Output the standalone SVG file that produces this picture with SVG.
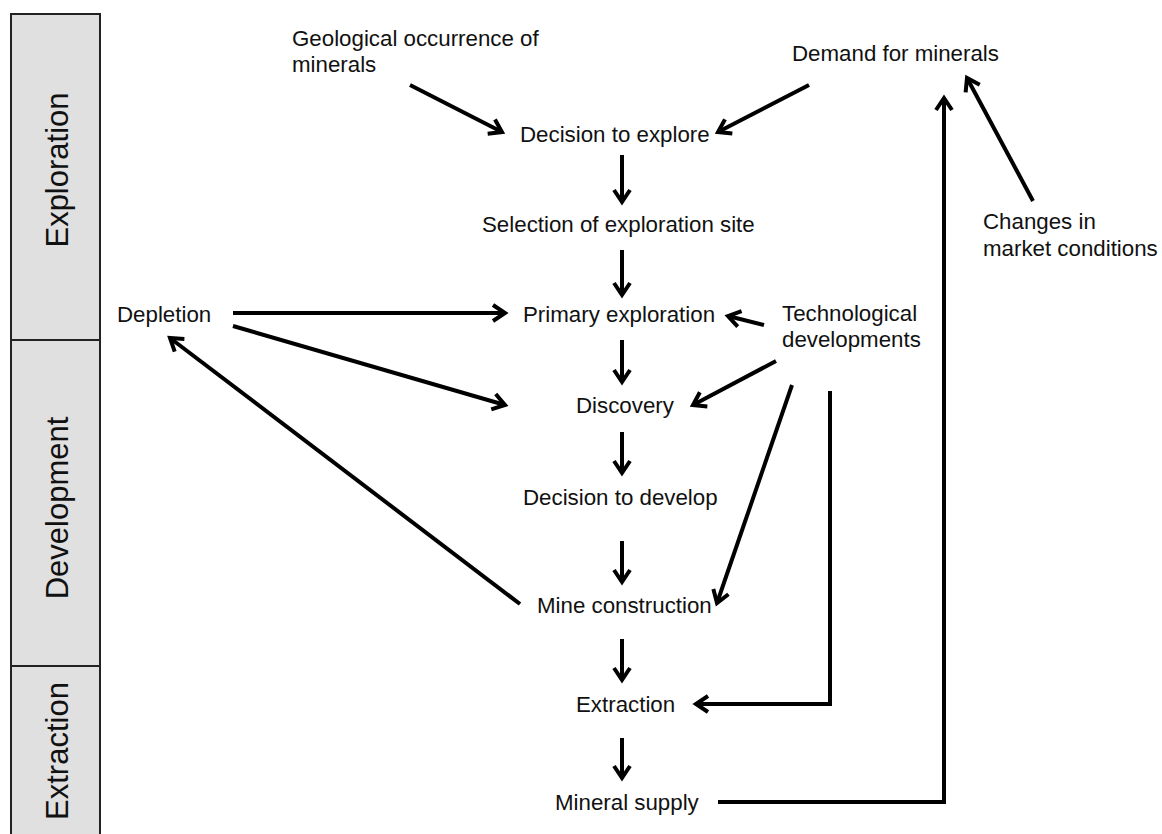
<svg xmlns="http://www.w3.org/2000/svg" width="1162" height="834" viewBox="0 0 1162 834">
  <style>
    .lbl { font-family: "Liberation Sans", Arial, sans-serif; font-size: 22.3px; fill: #111; }
    .phase { font-family: "Liberation Sans", Arial, sans-serif; font-size: 31px; fill: #111; text-anchor: middle; }
    .band { fill: #e0e0e0; stroke: #222; stroke-width: 2; }
    .sep { stroke: #222; stroke-width: 2; }
    .conn { fill: none; stroke: #000; stroke-width: 4; marker-end: url(#head); }
    .plain { fill: none; stroke: #000; stroke-width: 4; stroke-linejoin: miter; }
  </style>
  <defs>
    <marker id="head" viewBox="0 0 24 24" refX="19" refY="12" markerWidth="24" markerHeight="24" markerUnits="userSpaceOnUse" orient="auto">
      <path d="M7,4 L19,12 L7,20" fill="none" stroke="#000" stroke-width="4" stroke-linejoin="miter"/>
    </marker>
  </defs>

  <rect width="1162" height="834" fill="#fff"/>

  <!-- phase band on the left -->
  <g id="phases">
    <rect class="band" x="11" y="14" width="89" height="830"/>
    <line class="sep" x1="11" y1="340" x2="100" y2="340"/>
    <line class="sep" x1="11" y1="666" x2="100" y2="666"/>
    <text class="phase" transform="translate(68,170) rotate(-90)">Exploration</text>
    <text class="phase" transform="translate(68,508) rotate(-90)">Development</text>
    <text class="phase" transform="translate(68,751) rotate(-90)">Extraction</text>
  </g>

  <!-- connectors -->
  <g id="connectors">
    <line class="conn" x1="410" y1="85" x2="502" y2="132"/>
    <line class="conn" x1="809" y1="85" x2="718" y2="132"/>
    <line class="conn" x1="622" y1="155" x2="622" y2="202"/>
    <line class="conn" x1="622" y1="250" x2="622" y2="295"/>
    <line class="conn" x1="622" y1="340" x2="622" y2="382"/>
    <line class="conn" x1="622" y1="432" x2="622" y2="473"/>
    <line class="conn" x1="622" y1="541" x2="622" y2="582"/>
    <line class="conn" x1="622" y1="639" x2="622" y2="680"/>
    <line class="conn" x1="622" y1="738" x2="622" y2="778"/>
    <line class="conn" x1="233" y1="313" x2="505" y2="313"/>
    <line class="conn" x1="233" y1="326" x2="505" y2="405"/>
    <line class="conn" x1="520" y1="604" x2="170" y2="338"/>
    <line class="conn" x1="764" y1="325" x2="728" y2="316"/>
    <line class="conn" x1="776" y1="361" x2="693" y2="405"/>
    <line class="conn" x1="792" y1="385" x2="717" y2="603"/>
    <polyline class="conn" points="830,391 830,704 696,704"/>
    <polyline class="conn" points="718,802 944,802 944,98"/>
    <line class="conn" x1="1033" y1="201" x2="967" y2="78"/>
  </g>

  <!-- nodes -->
  <g id="n-geology"><text class="lbl" x="292" y="46">Geological occurrence of</text><text class="lbl" x="292" y="72">minerals</text></g>
  <g id="n-demand"><text class="lbl" x="792" y="61">Demand for minerals</text></g>
  <g id="n-market"><text class="lbl" x="983" y="229">Changes in</text><text class="lbl" x="983" y="256">market conditions</text></g>
  <g id="n-decide-explore"><text class="lbl" x="520" y="142">Decision to explore</text></g>
  <g id="n-site"><text class="lbl" x="482" y="232">Selection of exploration site</text></g>
  <g id="n-primary"><text class="lbl" x="523" y="322">Primary exploration</text></g>
  <g id="n-depletion"><text class="lbl" x="117" y="322">Depletion</text></g>
  <g id="n-tech"><text class="lbl" x="782" y="321">Technological</text><text class="lbl" x="782" y="347">developments</text></g>
  <g id="n-discovery"><text class="lbl" x="576" y="413">Discovery</text></g>
  <g id="n-decide-develop"><text class="lbl" x="523" y="505">Decision to develop</text></g>
  <g id="n-mine"><text class="lbl" x="537" y="613">Mine construction</text></g>
  <g id="n-extraction"><text class="lbl" x="576" y="712">Extraction</text></g>
  <g id="n-supply"><text class="lbl" x="555" y="810">Mineral supply</text></g>
</svg>
